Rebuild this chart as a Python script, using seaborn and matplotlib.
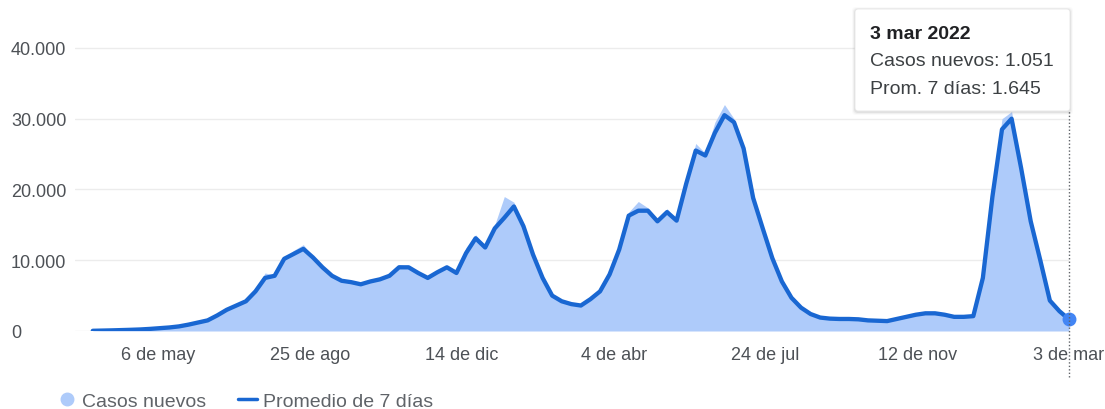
import pandas as pd
import seaborn as sns
import matplotlib.pyplot as plt
from matplotlib.lines import Line2D
from matplotlib.patches import FancyBboxPatch

#--------------------------------------------------------------------------------------------------------------------------
# Data (one value per week from 19 mar 2020 to 3 mar 2022)
fecha_inicio = '2020-03-19'

prom_7_dias = [
    30, 60, 90, 130, 170, 220, 300, 400, 500, 650,
    900, 1200, 1500, 2200, 3000, 3600, 4200, 5600, 7500, 7800,
    10200, 10900, 11600, 10400, 9000, 7800, 7100, 6900, 6600, 7000,
    7300, 7800, 9000, 9000, 8200, 7500, 8300, 9000, 8200, 11000,
    13100, 11800, 14500, 16000, 17600, 14800, 10800, 7500, 5000, 4200,
    3800, 3600, 4500, 5600, 8000, 11500, 16300, 17000, 17000, 15500,
    16800, 15600, 20800, 25500, 24800, 28000, 30500, 29500, 25800, 18800,
    14500, 10300, 7000, 4700, 3300, 2400, 1900, 1750, 1700, 1700,
    1650, 1500, 1450, 1400, 1700, 2000, 2300, 2500, 2500, 2300,
    2000, 2000, 2100, 7500, 19000, 28500, 30000, 23000, 15500, 10000,
    4300, 2800, 1645,
]

casos_nuevos = [
    40, 70, 100, 140, 180, 230, 320, 420, 520, 700,
    950, 1250, 1600, 2300, 3100, 3700, 4400, 5900, 8200, 7900,
    10400, 11400, 12200, 10500, 9100, 7900, 7200, 7000, 6700, 7200,
    7400, 8100, 9400, 9100, 8300, 7600, 8600, 9100, 8300, 11800,
    13600, 12000, 15000, 19000, 18200, 15000, 11000, 7700, 5200, 4300,
    3900, 3700, 4700, 5800, 8400, 11800, 16800, 18300, 17400, 15700,
    17300, 15700, 21300, 26500, 25100, 29500, 32000, 30000, 26300, 19100,
    14700, 10500, 7100, 4800, 3400, 2500, 1950, 1800, 1750, 1750,
    1700, 1550, 1500, 1450, 1750, 2050, 2350, 2550, 2550, 2350,
    2050, 2050, 2150, 8200, 20000, 30000, 31000, 23500, 15800, 10200,
    4400, 2900, 1051,
]

x_ticks = ['2020-05-06', '2020-08-25', '2020-12-14', '2021-04-04', '2021-07-24', '2021-11-12', '2022-03-03']
x_labels = ['6 de may', '25 de ago', '14 de dic', '4 de abr', '24 de jul', '12 de nov', '3 de mar']
y_ticks = [0, 10000, 20000, 30000, 40000]

df = pd.DataFrame({
    'fecha': pd.date_range(fecha_inicio, periods=len(prom_7_dias), freq='7D'),
    'casos': casos_nuevos,
    'prom': prom_7_dias,
})

#--------------------------------------------------------------------------------------------------------------------------
# Style
sns.set_theme(style='white')
plt.rcParams['font.family'] = ['Liberation Sans', 'DejaVu Sans']

AREA = '#aecbfa'
LINEA = '#1967d2'
GRIS = '#4d5156'

fig = plt.figure(figsize=(11.05, 4.10), dpi=100)
ax = fig.add_axes([75 / 1105, 78 / 410, 994 / 1105, 297.2 / 410])

ax.fill_between(df['fecha'], df['casos'], color=AREA, linewidth=0, zorder=1)
sns.lineplot(data=df, x='fecha', y='prom', ax=ax, color=LINEA, linewidth=3.1, zorder=3,
             solid_joinstyle='round', solid_capstyle='round')

ultimo = df.iloc[-1]
ax.plot([ultimo['fecha']], [ultimo['prom']], 'o', color='#4285f4', markersize=9, clip_on=False, zorder=4)
ax.axvline(ultimo['fecha'], ymin=-0.155, ymax=0.74, clip_on=False, color='#5f6368',
           linestyle=(0, (1, 1.5)), linewidth=1, zorder=5)

ax.set_xlim(pd.Timestamp('2020-03-06'), pd.Timestamp('2022-03-03'))
ax.set_ylim(0, 42000)

ax.set_xticks(pd.to_datetime(x_ticks))
ax.set_xticklabels(x_labels)
ax.set_yticks(y_ticks)
ax.set_yticklabels([f'{v:,}'.replace(',', '.') for v in y_ticks], ha='left')

ax.tick_params(axis='x', length=7, width=1, color='#dadce0', pad=4, labelsize=13, labelcolor=GRIS)
ax.tick_params(axis='y', length=0, pad=46, labelsize=13, labelcolor=GRIS)
ax.set_xlabel('')
ax.set_ylabel('')

ax.yaxis.grid(True, color='#ececec', linewidth=1)
ax.set_axisbelow(True)
sns.despine(ax=ax, left=True, bottom=True, right=True, top=True)

#--------------------------------------------------------------------------------------------------------------------------
# Tooltip (drawn in pixel coordinates of the figure)
px, py, pw, ph = 855, 410 - 112, 215, 102
for i, a in enumerate([0.06, 0.04, 0.02]):
    d = i + 1
    fig.patches.append(FancyBboxPatch((px - d, py - d - 1), pw + 2 * d, ph + 2 * d,
                                      boxstyle='round,pad=0,rounding_size=4', transform=None,
                                      facecolor='black', alpha=a, linewidth=0, zorder=8))
fig.patches.append(FancyBboxPatch((px, py), pw, ph, boxstyle='round,pad=0,rounding_size=3', transform=None,
                                  facecolor='white', edgecolor='#e6e6e6', linewidth=0.6, zorder=9))
fig.text(870 / 1105, (410 - 34.5) / 410, '3 mar 2022', fontsize=14, fontweight='bold', color='#202124', va='center', zorder=10)
fig.text(870 / 1105, (410 - 62) / 410, 'Casos nuevos: 1.051', fontsize=14, color='#3c4043', va='center', zorder=10)
fig.text(870 / 1105, (410 - 89) / 410, 'Prom. 7 días: 1.645', fontsize=14, color='#3c4043', va='center', zorder=10)

#--------------------------------------------------------------------------------------------------------------------------
# Legend
handles = [
    Line2D([], [], marker='o', linestyle='', color=AREA, markersize=9),
    Line2D([], [], color=LINEA, linewidth=2.5),
]
leg = fig.legend(handles, ['Casos nuevos', 'Promedio de 7 días'], loc='center left', bbox_to_anchor=(57 / 1105, 8 / 410),
                 ncol=2, frameon=False, fontsize=14, handlelength=1.0, handletextpad=0.3, columnspacing=1.6,
                 borderpad=0, borderaxespad=0)
for t in leg.get_texts():
    t.set_color('#5f6368')

fig.savefig('out.png', dpi=100)
